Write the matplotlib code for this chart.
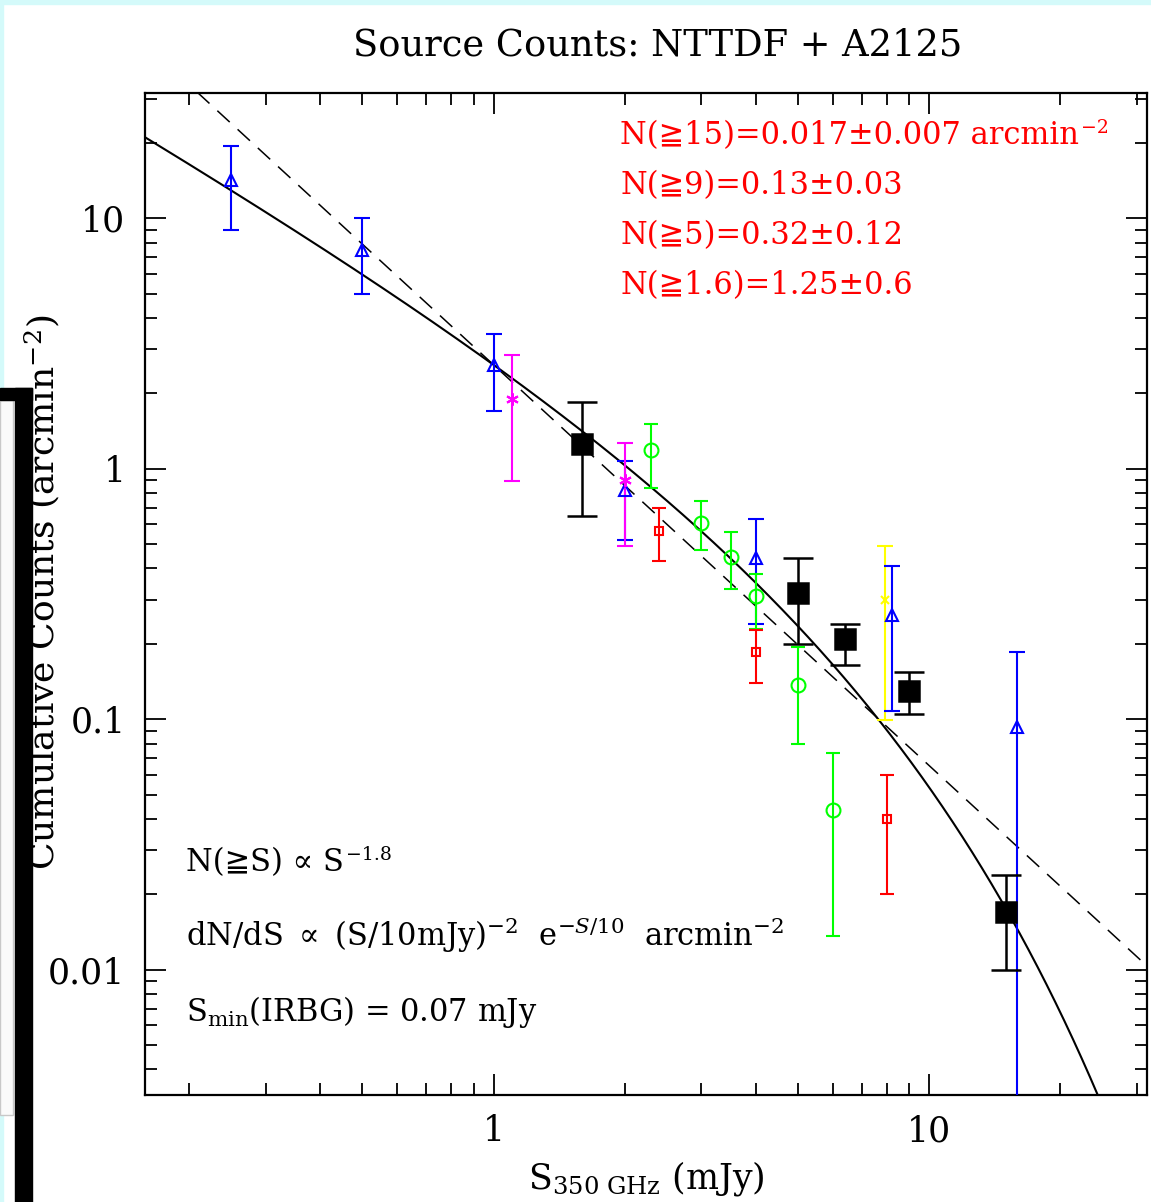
import numpy as np
import matplotlib.pyplot as plt
from matplotlib.ticker import LogLocator, FuncFormatter, NullFormatter
from matplotlib.patches import Rectangle

plt.rcParams['font.family'] = ['DejaVu Serif', 'DejaVu Sans']
plt.rcParams['mathtext.fontset'] = 'dejavuserif'

# cumulative counts per survey: flux (mJy), N(>S), lower and upper error ends
blue_S = [0.25, 0.5, 1.0, 2.0, 4.0, 8.2, 15.9]
blue_N = [14.2, 7.5, 2.6, 0.82, 0.44, 0.26, 0.093]
blue_lo = [9.0, 5.0, 1.7, 0.52, 0.24, 0.108, 1e-4]
blue_hi = [19.5, 10.0, 3.45, 1.07, 0.63, 0.41, 0.185]

magenta_S = [1.1, 2.0]
magenta_N = [1.9, 0.9]
magenta_lo = [0.89, 0.49]
magenta_hi = [2.85, 1.27]

green_S = [2.3, 3.0, 3.5, 4.0, 5.0, 6.0]
green_N = [1.19, 0.61, 0.445, 0.31, 0.137, 0.0435]
green_lo = [0.84, 0.475, 0.33, 0.23, 0.08, 0.0137]
green_hi = [1.51, 0.745, 0.56, 0.38, 0.195, 0.0735]

red_S = [2.4, 4.0, 8.0]
red_N = [0.566, 0.186, 0.04]
red_lo = [0.43, 0.139, 0.02]
red_hi = [0.70, 0.228, 0.06]

yellow_S = [7.9]
yellow_N = [0.30]
yellow_lo = [0.099]
yellow_hi = [0.49]

# NTTDF + A2125 counts
ntt_S = [1.6, 5.0, 6.4, 9.0, 15.0]
ntt_N = [1.25, 0.32, 0.21, 0.13, 0.017]
ntt_lo = [0.65, 0.20, 0.165, 0.105, 0.010]
ntt_hi = [1.85, 0.44, 0.24, 0.155, 0.024]

# model normalisation at 1 mJy and power-law slope
N_at_1mJy = 2.6
pl_slope = -1.6

# (text, superscript) pairs
red_notes = [('N(≧15)=0.017±0.007 arcmin', '−2'),
             ('N(≧9)=0.13±0.03', ''),
             ('N(≧5)=0.32±0.12', ''),
             ('N(≧1.6)=1.25±0.6', '')]
black_notes = [r'dN/dS $\propto$ (S/10mJy)$^{-2}$  e$^{-S/10}$  arcmin$^{-2}$',
               r'S$_{\rm min}$(IRBG) = 0.07 mJy']

W, H = 1151, 1202
fig = plt.figure(figsize=(W / 100, H / 100), dpi=100)
ax = fig.add_axes([145 / W, 1 - 1095 / H, (1147 - 145) / W, (1095 - 93) / H])
ax.set_xscale('log')
ax.set_yscale('log')
ax.set_xlim(10 ** -0.8, 10 ** 1.5)
ax.set_ylim(10 ** -2.5, 10 ** 1.5)

# dN/dS ~ (S/10)^-2 exp(-S/10), integrated to N(>S)
s = np.logspace(-1.5, 3, 6000)
dnds = (s / 10.0) ** -2 * np.exp(-s / 10.0)
seg = 0.5 * (dnds[1:] + dnds[:-1]) * np.diff(s)
cum = np.concatenate([np.cumsum(seg[::-1])[::-1], [0.0]])
cum = cum * N_at_1mJy / np.interp(1.0, s, cum)
ax.plot(s, cum, color='black', lw=1.5, zorder=2)

# pure power law
ax.plot(s, N_at_1mJy * s ** pl_slope, color='black', lw=1.1,
        dashes=(11, 7), zorder=2)


def draw(S, N, lo, hi, color, marker, ms, cap, lw, mfc='none'):
    S = np.array(S)
    N = np.array(N)
    err = [N - np.array(lo), np.array(hi) - N]
    ax.errorbar(S, N, yerr=err, marker=marker, linestyle='none', color=color,
                ms=ms, mfc=mfc, mec=color, mew=lw, elinewidth=lw,
                capsize=cap, capthick=lw, zorder=3)


draw(yellow_S, yellow_N, yellow_lo, yellow_hi, '#ffff00', 'x', 6, 6, 1.5)
draw(blue_S, blue_N, blue_lo, blue_hi, '#0000ff', '^', 9, 6, 1.5)
draw(magenta_S, magenta_N, magenta_lo, magenta_hi, '#ff00ff', (6, 2, 0), 9, 6, 1.5)
draw(green_S, green_N, green_lo, green_hi, '#00ff00', 'o', 10, 5, 1.5)
draw(red_S, red_N, red_lo, red_hi, '#ff0000', 's', 6, 5, 1.5)
draw(ntt_S, ntt_N, ntt_lo, ntt_hi, 'black', 's', 15, 10.5, 1.8, mfc='black')

for a in (ax.xaxis, ax.yaxis):
    a.set_major_locator(LogLocator(base=10))
    a.set_minor_locator(LogLocator(base=10, subs=np.arange(2, 10)))
    a.set_minor_formatter(NullFormatter())
ax.xaxis.set_major_formatter(FuncFormatter(lambda v, p: '%g' % v))
ax.yaxis.set_major_formatter(FuncFormatter(lambda v, p: '%g' % v))
ax.tick_params(which='both', direction='in', top=True, right=True,
               width=1.3, labelsize=25)
ax.tick_params(which='major', length=15, pad=14)
ax.tick_params(which='minor', length=8.5)
for sp in ax.spines.values():
    sp.set_linewidth(1.6)

renderer = fig.canvas.get_renderer()


def text_sup(x_px, base_px, body, sup, color, size):
    # body text on a baseline, with a raised exponent after it
    t = fig.text(x_px / W, 1 - base_px / H, body, color=color, fontsize=size,
                 va='baseline', ha='left')
    if sup:
        bb = t.get_window_extent(renderer=renderer)
        fig.text(bb.x1 / W + 2 / W, 1 - (base_px - 0.5 * size) / H, sup,
                 color=color, fontsize=0.62 * size, va='baseline', ha='left')


for i, (body, sup) in enumerate(red_notes):
    text_sup(620, 144 + 50 * i, body, sup, '#ff0000', 22)

text_sup(186, 871, 'N(≧S) ∝ S', '−1.8', 'black', 22)
for t, y in zip(black_notes, [935, 1012]):
    fig.text(186 / W, 1 - y / H, t, color='black', fontsize=22,
             va='center', ha='left')

fig.text(658 / W, 1 - 45 / H, 'Source Counts: NTTDF + A2125',
         fontsize=26.5, ha='center', va='center')
fig.text(646 / W, 1 - 1178 / H, r'S$_{\rm 350\ GHz}$ (mJy)',
         fontsize=25, ha='center', va='center')
fig.text(42 / W, 1 - 592 / H, 'Cumulative Counts (arcmin$^{-2}$)',
         fontsize=26, ha='center', va='center', rotation=90)

# window edge overlapping the left margin
fig.patches.append(Rectangle((0, 1 - 4 / H), 1, 4 / H, transform=fig.transFigure,
                             color='#d4fafa', zorder=10))
fig.patches.append(Rectangle((0, 0), 3 / W, 1, transform=fig.transFigure,
                             color='#d4fafa', zorder=10))
fig.patches.append(Rectangle((0, 1 - 1115 / H), 13 / W, (1115 - 400) / H,
                             transform=fig.transFigure, facecolor='#fafafa',
                             edgecolor='#c8c8c8', lw=1, zorder=10))
fig.patches.append(Rectangle((0, 1 - 400 / H), 32 / W, 12 / H,
                             transform=fig.transFigure, color='black', zorder=11))
fig.patches.append(Rectangle((15 / W, 0), 17 / W, 1 - 388 / H,
                             transform=fig.transFigure, color='black', zorder=11))

fig.savefig('out.png', dpi=100)
